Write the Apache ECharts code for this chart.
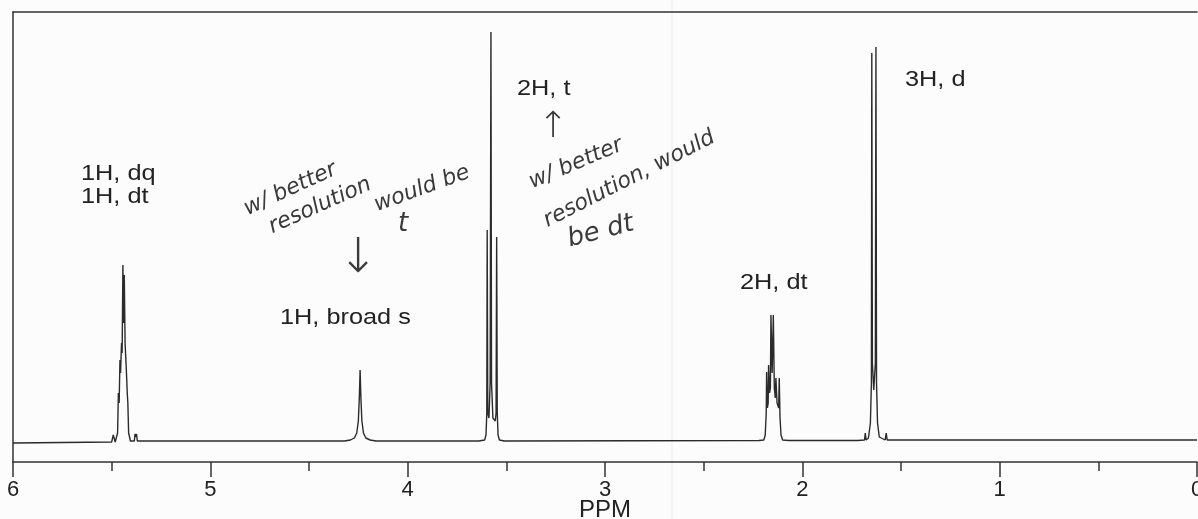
<!DOCTYPE html>
<html lang="en">
<head>
<meta charset="UTF-8"/>
<title>1H NMR</title>
<script src="https://cdn.jsdelivr.net/npm/echarts@6/dist/echarts.min.js"></script>
<style>
  html, body { margin: 0; padding: 0; background: #fcfcfc; }
  #main { width: 1198px; height: 519px; }
</style>
</head>
<body>
<div id="main"></div>
<script>
// chemical shift (ppm) and intensity (baseline = 0)
var shift = [
  6.00, 5.500, 5.495, 5.492, 5.488, 5.485, 5.482, 5.475, 5.470, 5.466, 5.462, 5.458, 5.455, 5.450, 5.447, 5.443, 5.440, 5.436, 5.432, 5.428, 5.425, 5.421, 5.418, 5.414, 5.405, 5.385, 5.382, 5.378, 5.374, 5.370, 5.360,
  4.320, 4.290, 4.270, 4.258, 4.250, 4.245, 4.241, 4.237, 4.232, 4.224, 4.212, 4.190, 4.160,
  3.640, 3.610, 3.603, 3.599, 3.597, 3.594, 3.588, 3.582, 3.578, 3.575, 3.568, 3.556, 3.552, 3.549, 3.546, 3.542, 3.535, 3.510,
  2.220, 2.195, 2.188, 2.183, 2.181, 2.177, 2.173, 2.171, 2.166, 2.162, 2.159, 2.153, 2.147, 2.142, 2.137, 2.134, 2.128, 2.120, 2.117, 2.113, 2.108, 2.100, 2.070,
  1.720, 1.685, 1.681, 1.677, 1.665, 1.655, 1.650, 1.648, 1.645, 1.638, 1.630, 1.627, 1.624, 1.619, 1.610, 1.580, 1.575, 1.570, 1.550, 0.00
];
var intensity = [
  0, 1, 1, 8, 6, 9, 1, 2, 10, 50, 40, 83, 70, 100, 90, 178, 120, 168, 100, 83, 70, 50, 40, 10, 2, 2, 9, 6, 9, 2, 1,
  2, 3, 5, 10, 22, 45, 73, 45, 22, 10, 5, 3, 2,
  2, 3, 8, 30, 213, 30, 25, 60, 411, 60, 25, 22, 30, 206, 30, 8, 3, 2,
  2.5, 3, 8, 30, 71, 35, 40, 78, 50, 55, 128, 70, 128, 55, 45, 65, 40, 35, 65, 25, 8, 3, 2.5,
  2.5, 3, 10, 3, 5, 20, 60, 390, 80, 53, 80, 396, 60, 20, 6, 3, 10, 3, 3, 3
];
var tickLabels = ['0', '1', '2', '3', '4', '5', '6'];

var points = [];
for (var i = 0; i < shift.length; i++) {
  points.push([shift[i], intensity[i]]);
}

var hand = 'italic 300 22px "DejaVu Sans"';
var print = '22px "Liberation Sans"';

var chart = echarts.init(document.getElementById('main'));
chart.setOption({
  backgroundColor: '#fcfcfc',
  animation: false,
  grid: { left: 13, right: 1, top: 12, bottom: 57, outerBoundsMode: 'none', containLabel: false },
  xAxis: [{
    type: 'value', min: 0, max: 6, interval: 1, inverse: true,
    name: 'PPM', nameLocation: 'middle', nameGap: 36, nameMoveOverlap: false,
    nameTextStyle: { fontFamily: 'Liberation Sans', fontSize: 24, color: '#222', verticalAlign: 'top' },
    axisLine: { onZero: false, lineStyle: { color: '#333', width: 1.5 } },
    axisTick: { length: 15, lineStyle: { color: '#333', width: 1.5 } },
    minorTick: { show: true, splitNumber: 2, length: 9, lineStyle: { color: '#333', width: 1.5 } },
    axisLabel: {
      margin: 17, fontFamily: 'Liberation Sans', fontSize: 22, color: '#222',
      formatter: function (v) { return tickLabels[Math.round(v)]; }
    },
    splitLine: { show: false }
  }, {
    type: 'value', min: 0, max: 6, inverse: true, position: 'top',
    axisLine: { show: true, onZero: false, lineStyle: { color: '#333', width: 1.5 } },
    axisTick: { show: false }, axisLabel: { show: false }, splitLine: { show: false }
  }],
  yAxis: {
    type: 'value', min: -19, max: 431,
    axisLine: { show: true, onZero: false, lineStyle: { color: '#333', width: 1.5 } },
    axisTick: { show: false }, axisLabel: { show: false }, splitLine: { show: false }
  },
  series: [{
    type: 'line',
    data: points,
    symbol: 'none',
    lineStyle: { color: '#2b2b2b', width: 1.4 }
  }],
  graphic: [
    { type: 'line', shape: { x1: 672, y1: 0, x2: 672, y2: 519 }, style: { stroke: '#ececec', lineWidth: 1 }, z: -1 },
    { type: 'text', x: 81, y: 174, scaleX: 1.15, style: { text: '1H, dq', font: print, fill: '#222', verticalAlign: 'middle' } },
    { type: 'text', x: 81, y: 197, scaleX: 1.15, style: { text: '1H, dt', font: print, fill: '#222', verticalAlign: 'middle' } },
    { type: 'text', x: 280, y: 318, scaleX: 1.15, style: { text: '1H, broad s', font: print, fill: '#222', verticalAlign: 'middle' } },
    { type: 'text', x: 517, y: 89, scaleX: 1.15, style: { text: '2H, t', font: print, fill: '#222', verticalAlign: 'middle' } },
    { type: 'text', x: 740, y: 283, scaleX: 1.15, style: { text: '2H, dt', font: print, fill: '#222', verticalAlign: 'middle' } },
    { type: 'text', x: 905, y: 80, scaleX: 1.15, style: { text: '3H, d', font: print, fill: '#222', verticalAlign: 'middle' } },

    { type: 'text', x: 245, y: 210, rotation: 0.43, style: { text: 'w/ better', font: hand, fill: '#3a3a3a', verticalAlign: 'middle' } },
    { type: 'text', x: 270, y: 228, rotation: 0.42, style: { text: 'resolution', font: hand, fill: '#3a3a3a', verticalAlign: 'middle' } },
    { type: 'text', x: 375, y: 206, rotation: 0.35, style: { text: 'would be', font: hand, fill: '#3a3a3a', verticalAlign: 'middle' } },
    { type: 'text', x: 398, y: 224, style: { text: 't', font: 'italic 300 26px "DejaVu Sans"', fill: '#3a3a3a', verticalAlign: 'middle' } },
    { type: 'text', x: 338, y: 260, style: { text: '↓', font: '300 48px "DejaVu Sans"', fill: '#3a3a3a', verticalAlign: 'middle' } },

    { type: 'text', x: 538, y: 128, style: { text: '↑', font: '300 36px "DejaVu Sans"', fill: '#3a3a3a', verticalAlign: 'middle' } },
    { type: 'text', x: 530, y: 183, rotation: 0.40, style: { text: 'w/ better', font: hand, fill: '#3a3a3a', verticalAlign: 'middle' } },
    { type: 'text', x: 545, y: 222, rotation: 0.47, style: { text: 'resolution, would', font: hand, fill: '#3a3a3a', verticalAlign: 'middle' } },
    { type: 'text', x: 568, y: 240, rotation: 0.25, style: { text: 'be dt', font: 'italic 300 26px "DejaVu Sans"', fill: '#3a3a3a', verticalAlign: 'middle' } }
  ]
});
</script>
</body>
</html>
